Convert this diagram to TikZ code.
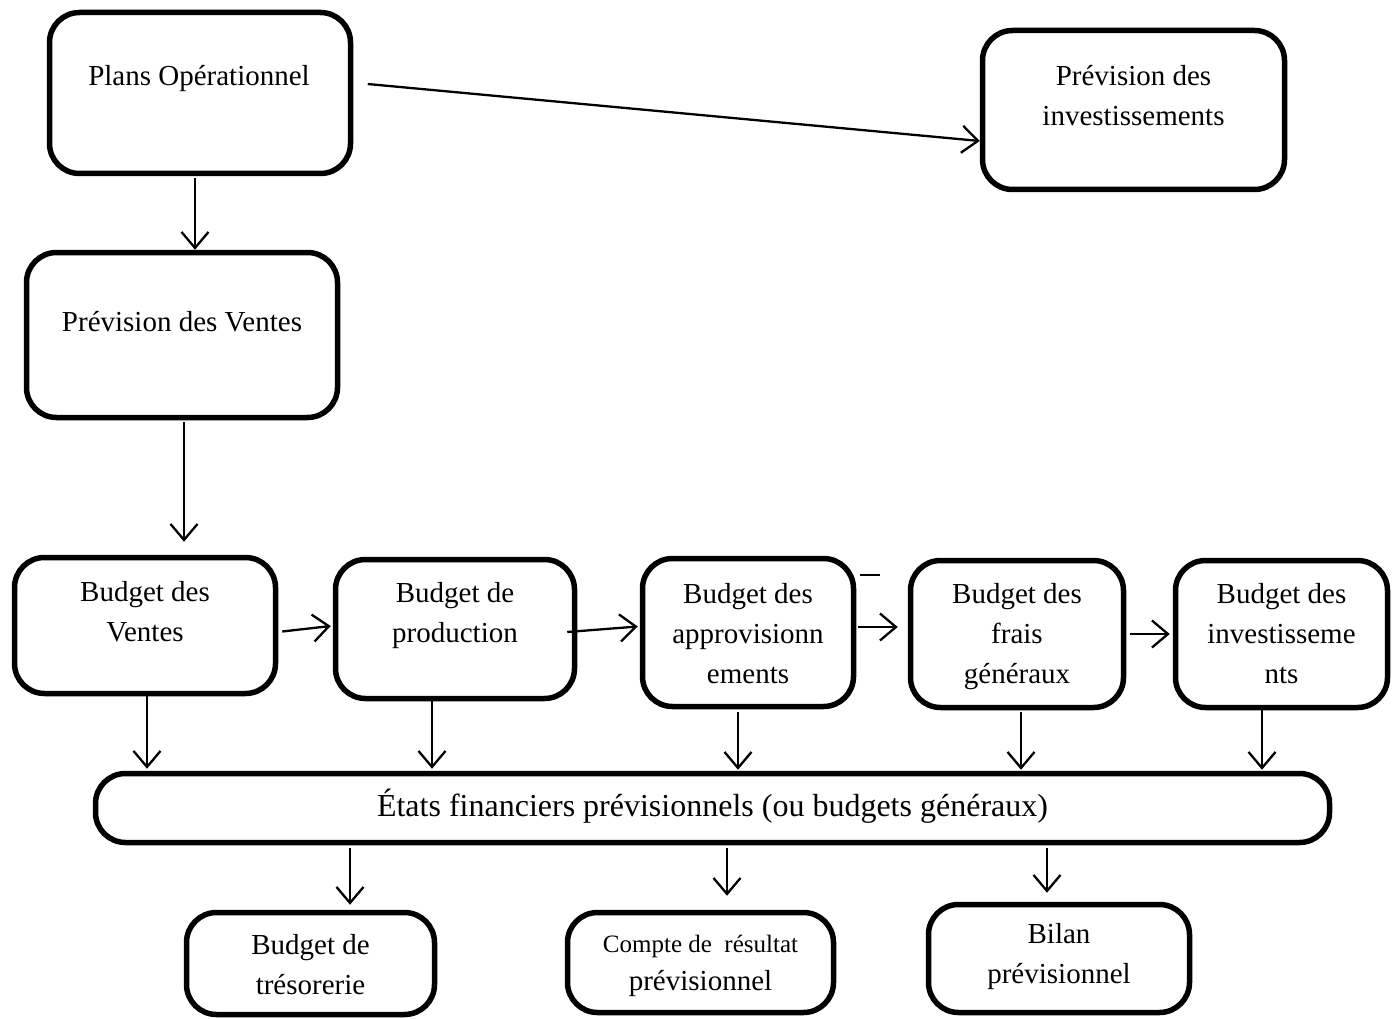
\documentclass[tikz,border=0pt]{standalone}
\usepackage{fontspec}
\setmainfont{Liberation Serif}
\usetikzlibrary{arrows.meta,calc}

\begin{document}
\begin{tikzpicture}[x=1pt,y=-1pt,
  box/.style={draw, line width=5.5pt, rounded corners=30pt, inner sep=0pt},
  txt/.style={align=center, font=\fontsize{29}{40}\selectfont},
  arr/.style={line width=2.3pt, -{Straight Barb[length=16pt,width=27pt,line width=2.3pt]}},
  plain/.style={line width=2.3pt}]
\useasboundingbox (0,0) rectangle (1392,1019);

% top row
\node[box, minimum width=301, minimum height=161,
  label={[txt,xshift=-1pt,yshift=14pt]center:Plans Opérationnel}] (po) at (200,93) {};
\node[box, minimum width=302, minimum height=159,
  label={[txt,yshift=14.5pt]center:Prévision des\\investissements}] (pi) at (1133.5,110) {};
\node[box, minimum width=311, minimum height=165,
  label={[txt,yshift=13pt]center:Prévision des Ventes}] (pv) at (182,335) {};

% budget row
\node[box, minimum width=261, minimum height=136,
  label={[txt,yshift=13.5pt]center:Budget des\\Ventes}] (bv) at (145,625.5) {};
\node[box, minimum width=239, minimum height=139,
  label={[txt,yshift=13pt]center:Budget de\\production}] (bp) at (455,629) {};
\node[box, minimum width=211, minimum height=148,
  label={[txt,yshift=-1.5pt]center:Budget des\\approvisionn\\ements}] (ba) at (748,632.5) {};
\node[box, minimum width=213, minimum height=147,
  label={[txt,yshift=-3pt]center:Budget des\\frais\\généraux}] (bf) at (1017,634) {};
\node[box, minimum width=212, minimum height=147,
  label={[txt]center:Budget des\\investisseme\\nts}] (bi) at (1281.5,634) {};

% general budgets
\node[box, minimum width=1234, minimum height=69,
  label={[font=\fontsize{32}{40}\selectfont,yshift=2pt]center:États financiers prévisionnels (ou budgets généraux)}] (ef) at (712.5,808) {};

% bottom row
\node[box, minimum width=248, minimum height=102,
  label={[txt,yshift=-1.5pt]center:Budget de\\trésorerie}] (bt) at (310.5,963.5) {};
\node[box, minimum width=266, minimum height=100,
  label={[align=center,font=\fontsize{29}{38}\selectfont,yshift=-3pt]center:{\fontsize{25}{38}\selectfont Compte de\ \ résultat}\\prévisionnel}] (cr) at (700.5,962.5) {};
\node[box, minimum width=261, minimum height=108,
  label={[txt,yshift=2pt]center:Bilan\\prévisionnel}] (bb) at (1059,958.5) {};

% connectors
\draw[arr] ($(po.east)+(14.5,-9)$) -- ($(pi.west)+(0,31)$);
\draw[arr] ($(po.south)+(-5,2)$) coordinate (c1) -- (c1 |- pv.north);
\draw[arr] ($(pv.south)+(2,2)$) coordinate (c2) -- ($(c2 |- bv.north)+(0,-13)$);
\draw[arr] ($(bv.east)+(4,6)$) -- ($(bp.west)+(-2,-3)$);
\draw[arr] ($(bp.east)+(-10,3)$) -- ($(ba.west)+(-2,-6)$);
\draw[arr] ($(ba.east)+(2,-5.5)$) -- ($(bf.west)+(-10,-7)$);
\draw[plain] ($(ba.east)+(4,-57.5)$) -- ++(20,0);
\draw[arr] ($(bf.east)+(4,0)$) -- ($(bi.west)+(-3,0)$);

\draw[arr] ($(bv.south)+(2,-2)$) coordinate (d1) -- ($(d1 |- ef.north)+(0,-2)$);
\draw[arr] ($(bp.south)+(-23,0)$) coordinate (d2) -- ($(d2 |- ef.north)+(0,-2)$);
\draw[arr] ($(ba.south)+(-10,3)$) coordinate (d3) -- ($(d3 |- ef.north)+(0,-1)$);
\draw[arr] ($(bf.south)+(4,2)$) coordinate (d4) -- ($(d4 |- ef.north)+(0,-1)$);
\draw[arr] ($(bi.south)+(-19.5,0)$) coordinate (d5) -- ($(d5 |- ef.north)+(0,-1)$);

\draw[arr] ($(ef.south)+(-362.5,3)$) coordinate (e1) -- ($(e1 |- bt.north)+(0,-5)$);
\draw[arr] ($(ef.south)+(14.5,3)$) coordinate (e2) -- ($(e2 |- cr.north)+(0,-14)$);
\draw[arr] ($(ef.south)+(334.5,3)$) coordinate (e3) -- ($(e3 |- bb.north)+(0,-9)$);
\end{tikzpicture}
\end{document}
